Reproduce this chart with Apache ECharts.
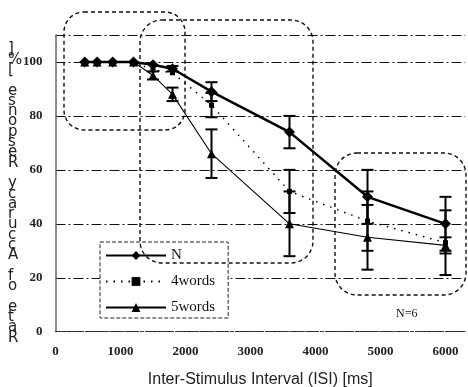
<!DOCTYPE html>
<html>
<head>
<meta charset="utf-8">
<script src="https://cdn.jsdelivr.net/npm/echarts@6/dist/echarts.min.js"></script>
<style>html,body{margin:0;padding:0;background:#fff}#c{width:468px;height:387px}</style>
</head>
<body>
<div id="c"></div>
<script>
const isi = [450, 640, 880, 1200, 1500, 1800, 2400, 3600, 4800, 6000];
const nVals = [100, 100, 100, 100, 99, 97.5, 89, 74, 50, 40];
const nErr = [0, 0, 0, 0, 0, 1, 3.5, 6, 10, 10];
const w4Vals = [100, 100, 100, 100, 97, 96, 84, 52, 41, 33];
const w4Err = [0, 0, 0, 0, 0, 0, 4.5, 8, 11, 12];
const w5Vals = [100, 100, 100, 100, 95, 88, 66, 40, 35, 32];
const w5Err = [0, 0, 0, 0, 1.5, 2.5, 9, 12, 12, 3];
const seriesNames = ['N', '4words', '5words'];
const xTicks = [0, 1000, 2000, 3000, 4000, 5000, 6000];
const yTicks = [0, 20, 40, 60, 80, 100];
const xTitle = 'Inter-Stimulus Interval (ISI) [ms]';
const yTitle = 'Rate of Accuracy Response [%]';
const noteText = 'N=6';

const chart = echarts.init(document.getElementById('c'), null, {renderer: 'canvas'});

function pairs(vals) { return isi.map((x, i) => [x, vals[i]]); }
function errData(vals, errs) { return isi.map((x, i) => [x, vals[i], errs[i]]); }

function errSeries(vals, errs, lw) {
  return {
    type: 'custom',
    silent: true,
    z: 3,
    data: errData(vals, errs),
    renderItem: function (params, api) {
      const x = api.value(0), y = api.value(1), e = api.value(2);
      if (!e) return null;
      const top = api.coord([x, y + e]);
      const bot = api.coord([x, y - e]);
      const hw = 6;
      const st = {stroke: '#000', lineWidth: lw};
      return {
        type: 'group',
        children: [
          {type: 'line', shape: {x1: top[0], y1: top[1], x2: bot[0], y2: bot[1]}, style: st},
          {type: 'line', shape: {x1: top[0] - hw, y1: top[1], x2: top[0] + hw, y2: top[1]}, style: st},
          {type: 'line', shape: {x1: bot[0] - hw, y1: bot[1], x2: bot[0] + hw, y2: bot[1]}, style: st}
        ]
      };
    }
  };
}

const serif = '"Liberation Serif", "DejaVu Serif", serif';
const stacked = yTitle.split('').reverse().join('\n');

chart.setOption({
  animation: false,
  backgroundColor: '#fff',
  grid: {left: 55.5, right: 3, top: 35, bottom: 55.3, containLabel: false, outerBoundsMode: 'none'},
  xAxis: {
    type: 'value', min: 0, max: 6300, interval: 1000,
    axisLine: {show: true, onZero: false, lineStyle: {color: '#333', width: 1.2, type: [8, 2, 3, 2]}},
    axisTick: {show: false},
    splitLine: {show: false},
    axisLabel: {
      color: '#222', fontFamily: serif, fontSize: 13, fontWeight: 'bold', margin: 13,
      formatter: v => (xTicks.indexOf(v) >= 0 ? String(v) : '')
    },
    name: xTitle, nameLocation: 'middle', nameGap: 40,
    nameTextStyle: {color: '#222', fontFamily: '"Liberation Sans", Arial, sans-serif', fontSize: 16}
  },
  yAxis: {
    type: 'value', min: 0, max: 110, interval: 20,
    axisLine: {show: true, lineStyle: {color: '#666', width: 1.5}},
    axisTick: {show: false},
    splitLine: {show: true, lineStyle: {color: '#111', width: 1, type: [10, 3, 2, 3]}},
    axisLabel: {
      color: '#222', fontFamily: serif, fontSize: 13, fontWeight: 'bold', margin: 13,
      formatter: v => (yTicks.indexOf(v) >= 0 ? String(v) : '')
    }
  },
  legend: {
    data: seriesNames,
    orient: 'vertical',
    left: 100, top: 242,
    itemWidth: 60, itemHeight: 11, itemGap: 11, itemTextGap: 6,
    padding: [6, 13, 3, 5],
    backgroundColor: '#fff',
    borderColor: '#222', borderWidth: 1, borderType: 'dashed',
    textStyle: {color: '#111', fontFamily: serif, fontSize: 15},
    z: 5
  },
  series: [
    {
      name: 'N', type: 'line', data: pairs(nVals), z: 4,
      symbol: 'diamond', symbolSize: 11,
      lineStyle: {color: '#000', width: 2.5},
      itemStyle: {color: '#000'}
    },
    {
      name: '4words', type: 'line', data: pairs(w4Vals), z: 4,
      symbol: 'rect', symbolSize: 5,
      lineStyle: {color: '#000', width: 1.5, type: [1.5, 6]},
      itemStyle: {color: '#000'}
    },
    {
      name: '5words', type: 'line', data: pairs(w5Vals), z: 4,
      symbol: 'triangle', symbolSize: 9,
      lineStyle: {color: '#000', width: 1.1},
      itemStyle: {color: '#000'}
    },
    errSeries(nVals, nErr, 2),
    errSeries(w4Vals, w4Err, 2),
    errSeries(w5Vals, w5Err, 2)
  ],
  graphic: [
    {type: 'rect', z: 10, shape: {x: 64, y: 12, width: 121, height: 118, r: 20},
     style: {fill: 'none', stroke: '#111', lineWidth: 1.4, lineDash: [4, 3]}},
    {type: 'rect', z: 10, shape: {x: 140, y: 20, width: 173, height: 243, r: 22},
     style: {fill: 'none', stroke: '#111', lineWidth: 1.4, lineDash: [4, 3]}},
    {type: 'rect', z: 10, shape: {x: 335, y: 153, width: 131, height: 142, r: 22},
     style: {fill: 'none', stroke: '#111', lineWidth: 1.4, lineDash: [4, 3]}},
    {type: 'text', z: 10, left: 396, top: 308,
     style: {text: noteText, fill: '#111', font: '12px ' + serif}},
    {type: 'text', z: 10, left: 8, top: 42,
     style: {text: stacked, fill: '#222', font: '15px "DejaVu Sans", sans-serif', lineHeight: 10.3, align: 'center', width: 16}}
  ]
});
</script>
</body>
</html>
